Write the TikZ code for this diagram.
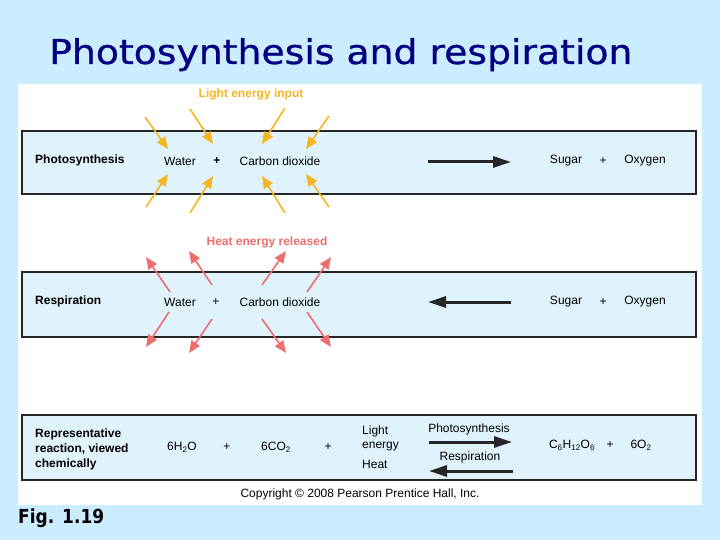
\documentclass[tikz,border=0pt]{standalone}
\usepackage{fontspec}
\setmainfont{Liberation Sans}
\newfontfamily\titlefont[FakeBold=0.8]{DejaVu Sans}
\newfontfamily\figfont{DejaVu Sans}
\usetikzlibrary{arrows.meta}
\definecolor{bgblue}{HTML}{CCECFF}
\definecolor{boxfill}{HTML}{E0F2FC}
\definecolor{navy}{HTML}{000080}
\definecolor{lightorange}{HTML}{F4B622}
\definecolor{heatred}{HTML}{EE6E6E}
\definecolor{darkline}{HTML}{262626}
\tikzset{
  panelbox/.style={draw=darkline, line width=1.4pt, fill=boxfill},
  txt/.style={font=\fontsize{12}{14}\selectfont, inner sep=0pt},
  btxt/.style={font=\fontsize{12}{14}\selectfont\bfseries, inner sep=0pt},
  lightarrow/.style={draw=lightorange, line width=1.6pt, -{Triangle[length=12pt,width=10pt]}},
  heatarrow/.style={draw=heatred, line width=1.6pt, -{Triangle[length=12pt,width=10pt]}},
  bigarrow/.style={draw=darkline, line width=3pt, -{Triangle[length=18pt,width=11pt]}},
}
\begin{document}
\begin{tikzpicture}[x=1pt,y=-1pt]
\useasboundingbox (0,0) rectangle (720,540);
\fill[bgblue] (0,0) rectangle (720,540);
\fill[white] (18,84) rectangle (702,505);

% title
\node[anchor=base west, inner sep=0pt, text=navy] (title) at (49,64)
  {\resizebox{583pt}{26pt}{\titlefont Photosynthesis and respiration}};
\node[anchor=base west, inner sep=0pt] (fig) at (18,523)
  {\resizebox{86pt}{14.7pt}{\figfont\bfseries Fig. 1.19}};

% boxes
\draw[panelbox] (22,131) rectangle (696,194);
\draw[panelbox] (22,272) rectangle (696,337);
\draw[panelbox] (22,415) rectangle (696,480);

% row 1: photosynthesis
\node[btxt, anchor=west] (ph) at (35,160) {Photosynthesis};
\node[txt] (w1) at (180,161) {Water};
\node[btxt] (p1) at (217,161) {+};
\node[txt] (c1) at (280,161) {Carbon dioxide};
\node[txt] (s1) at (566,161) {Sugar};
\node[txt] (p1b) at (603,161) {+};
\node[txt] (o1) at (645,161) {Oxygen};
\coordinate (a1s) at (428,162);
\coordinate (a1e) at (511,162);
\draw[bigarrow] (a1s) -- (a1e);

% light energy
\node[btxt, text=lightorange] (light) at (251,94) {Light energy input};
\draw[lightarrow] (145,117) coordinate (l1s) -- (168,149) coordinate (l1e);
\draw[lightarrow] (190,109) coordinate (l2s) -- (213,144) coordinate (l2e);
\draw[lightarrow] (285,108) coordinate (l3s) -- (262,144) coordinate (l3e);
\draw[lightarrow] (329,116) coordinate (l4s) -- (306,149) coordinate (l4e);
\draw[lightarrow] (146,207) coordinate (l5s) -- (168,174) coordinate (l5e);
\draw[lightarrow] (190,213) coordinate (l6s) -- (213,176) coordinate (l6e);
\draw[lightarrow] (285,213) coordinate (l7s) -- (262,176) coordinate (l7e);
\draw[lightarrow] (329,207) coordinate (l8s) -- (306,174) coordinate (l8e);

% row 2: respiration
\node[btxt, anchor=west] (re) at (35,301) {Respiration};
\node[txt] (w2) at (180,302) {Water};
\node[txt] (p2) at (216,302) {+};
\node[txt] (c2) at (280,302) {Carbon dioxide};
\node[txt] (s2) at (566,302) {Sugar};
\node[txt] (p2b) at (603,302) {+};
\node[txt] (o2) at (645,302) {Oxygen};
\coordinate (a2s) at (511,302);
\coordinate (a2e) at (428,302);
\draw[bigarrow] (a2s) -- (a2e);

% heat released
\node[btxt, text=heatred] (heat) at (267,242) {Heat energy released};
\draw[heatarrow] (170,292) coordinate (h1s) -- (146,257) coordinate (h1e);
\draw[heatarrow] (212,285) coordinate (h2s) -- (189,251) coordinate (h2e);
\draw[heatarrow] (262,285) coordinate (h3s) -- (286,251) coordinate (h3e);
\draw[heatarrow] (307,292) coordinate (h4s) -- (331,257) coordinate (h4e);
\draw[heatarrow] (169,312) coordinate (h5s) -- (146,347) coordinate (h5e);
\draw[heatarrow] (212,319) coordinate (h6s) -- (189,353) coordinate (h6e);
\draw[heatarrow] (262,319) coordinate (h7s) -- (286,353) coordinate (h7e);
\draw[heatarrow] (307,312) coordinate (h8s) -- (331,347) coordinate (h8e);

% row 3: chemical
\node[btxt, anchor=west, align=left, font=\fontsize{12}{15}\selectfont\bfseries] (rep) at (35,449)
  {Representative\\reaction, viewed\\chemically};
\node[txt] (h2o) at (182,447) {6H\textsubscript{2}O};
\node[txt] (p3) at (227,447) {+};
\node[txt] (co2) at (276,447) {6CO\textsubscript{2}};
\node[txt] (p4) at (328,447) {+};
\node[txt, anchor=west, align=left, font=\fontsize{12}{14}\selectfont] (le) at (362,438) {Light\\energy};
\node[txt, anchor=west] (ht) at (362,464) {Heat};
\node[txt] (pslab) at (469,429) {Photosynthesis};
\node[txt] (rslab) at (470,457) {Respiration};
\coordinate (a3s) at (429,442);
\coordinate (a3e) at (512,442);
\draw[bigarrow] (a3s) -- (a3e);
\coordinate (a4s) at (513,471);
\coordinate (a4e) at (429,471);
\draw[bigarrow] (a4s) -- (a4e);
\node[txt] (glu) at (572,445) {C\textsubscript{6}H\textsubscript{12}O\textsubscript{6}};
\node[txt] (p5) at (610,445) {+};
\node[txt] (o6) at (641,445) {6O\textsubscript{2}};

% copyright
\node[inner sep=0pt, font=\fontsize{12}{14}\selectfont] (copy) at (360,494)
  {Copyright \textcopyright{} 2008 Pearson Prentice Hall, Inc.};
\end{tikzpicture}
\end{document}
